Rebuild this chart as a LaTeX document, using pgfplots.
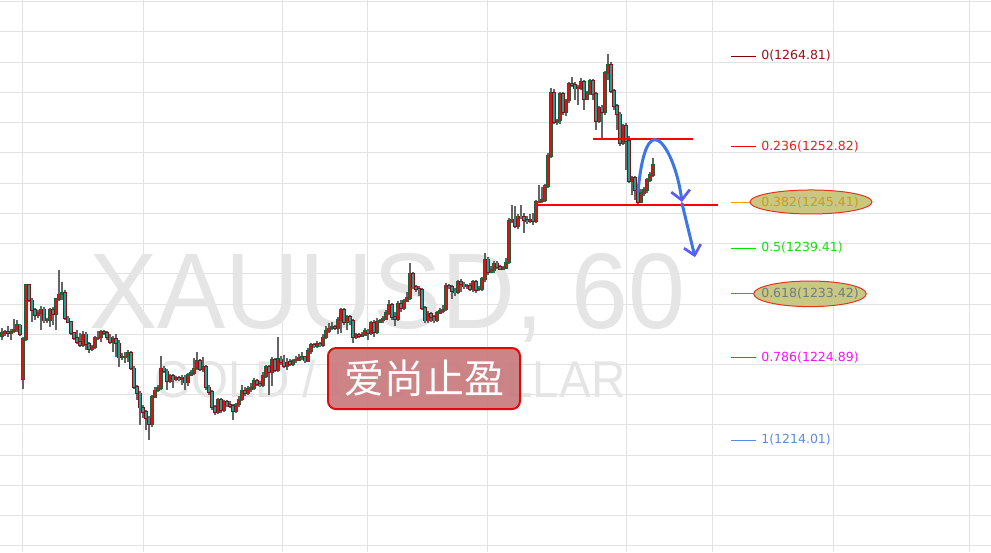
\documentclass[border=0pt]{standalone}
\usepackage{fontspec}
\setmainfont{DejaVu Sans}
\newfontfamily\lib{Liberation Sans}
\newfontfamily\cjk{Noto Sans CJK SC}
\usepackage{pgfplots}
\usepackage{pgfplotstable}
\pgfplotsset{compat=1.18}
\usetikzlibrary{arrows.meta}

\definecolor{gridc}{RGB}{226,226,226}
\definecolor{wm}{RGB}{229,229,229}
\definecolor{upfill}{RGB}{215,20,20}
\definecolor{upedge}{RGB}{30,95,60}
\definecolor{dnfill}{RGB}{30,160,150}
\definecolor{dnedge}{RGB}{125,20,20}
\definecolor{wick}{RGB}{100,100,100}
\definecolor{boxfill}{RGB}{201,123,125}
\definecolor{boxred}{RGB}{225,10,10}
\definecolor{arcc}{RGB}{60,118,230}
\definecolor{arrc}{RGB}{92,92,245}
\definecolor{fz}{RGB}{130,0,0}\definecolor{fzt}{RGB}{150,20,20}
\definecolor{fa}{RGB}{255,0,0}\definecolor{fat}{RGB}{240,30,30}
\definecolor{fb}{RGB}{255,153,0}\definecolor{fbt}{RGB}{205,155,20}
\definecolor{fc}{RGB}{0,225,0}\definecolor{fct}{RGB}{25,220,25}
\definecolor{fd}{RGB}{70,130,220}\definecolor{fdt}{RGB}{110,125,125}
\definecolor{fe}{RGB}{255,0,255}\definecolor{fet}{RGB}{240,20,240}
\definecolor{ff}{RGB}{85,140,230}\definecolor{fft}{RGB}{90,140,220}
\definecolor{ellf}{RGB}{200,200,130}
\definecolor{elle}{RGB}{230,50,30}

\pgfplotstableread{
x o h l c
2 1227.8 1228.8 1227.2 1228.2
5 1228.2 1228.6 1227.8 1228.3
8 1228.3 1229.1 1227.6 1228.2
11 1228.2 1228.7 1227.2 1228.4
14 1228.4 1230.0 1228.2 1228.6
17 1228.6 1229.9 1228.3 1229.2
20 1229.2 1229.4 1227.8 1228.0
23 1222.1 1227.6 1220.8 1227.4
26 1227.4 1234.6 1227.1 1234.5
29 1234.5 1234.6 1232.3 1232.5
32 1232.5 1232.8 1229.6 1231.2
35 1231.2 1231.5 1229.9 1230.5
38 1230.5 1231.2 1230.1 1230.8
41 1230.8 1231.7 1228.6 1231.3
44 1231.3 1231.6 1229.5 1229.8
47 1229.8 1230.1 1229.5 1229.9
50 1229.9 1231.5 1229.0 1231.2
53 1231.2 1231.6 1229.2 1230.7
56 1230.7 1232.8 1228.6 1232.7
59 1232.7 1236.5 1232.4 1233.3
62 1233.3 1234.9 1232.5 1233.5
65 1233.5 1233.9 1229.9 1230.1
68 1230.1 1230.4 1229.5 1229.6
71 1229.6 1229.8 1227.9 1228.2
74 1228.2 1228.3 1227.2 1227.5
77 1227.5 1228.6 1226.7 1227.0
80 1227.0 1228.2 1226.3 1226.6
83 1226.6 1228.4 1226.3 1228.0
86 1228.0 1228.3 1225.9 1226.7
89 1226.7 1227.0 1225.5 1226.0
92 1226.0 1226.6 1225.8 1226.3
95 1226.3 1227.8 1226.0 1227.5
98 1227.5 1228.4 1227.2 1227.6
101 1227.6 1228.6 1227.0 1228.3
104 1228.3 1228.6 1227.9 1228.2
107 1228.2 1228.4 1227.2 1227.6
110 1227.6 1228.0 1226.7 1227.0
113 1227.0 1227.8 1225.7 1227.4
116 1227.4 1228.0 1225.0 1226.8
119 1226.8 1227.2 1223.7 1224.9
122 1224.9 1225.5 1224.6 1225.0
125 1225.0 1225.7 1224.2 1225.1
128 1225.1 1225.9 1224.3 1225.5
131 1225.5 1225.8 1223.3 1223.5
134 1223.5 1223.8 1220.8 1221.0
137 1221.0 1221.3 1219.3 1220.2
140 1220.2 1220.5 1216.0 1218.3
143 1218.3 1218.7 1216.9 1217.7
146 1217.7 1218.0 1215.3 1216.9
149 1216.9 1217.2 1214.0 1216.1
152 1216.1 1220.0 1215.7 1219.7
155 1219.7 1221.0 1219.6 1220.6
158 1220.6 1221.3 1220.4 1220.9
161 1220.9 1225.1 1220.6 1223.5
164 1223.5 1223.8 1222.9 1223.1
167 1223.1 1223.4 1220.6 1221.8
170 1221.8 1222.7 1221.6 1222.5
173 1222.5 1222.7 1220.9 1222.0
176 1222.0 1222.5 1221.8 1222.2
179 1222.2 1222.5 1221.8 1222.1
182 1222.1 1222.6 1221.3 1222.3
185 1222.3 1222.6 1220.6 1221.6
188 1221.6 1222.9 1221.2 1222.6
191 1222.6 1223.3 1222.5 1222.9
194 1222.9 1224.9 1222.6 1223.5
197 1223.5 1225.7 1223.3 1224.5
200 1224.5 1224.7 1223.1 1223.4
203 1223.4 1225.0 1223.0 1223.7
206 1223.7 1223.9 1220.6 1221.0
209 1221.0 1221.3 1220.0 1220.4
212 1220.4 1220.6 1218.0 1218.4
215 1218.4 1218.7 1217.3 1217.7
218 1217.7 1219.6 1217.4 1219.3
221 1219.3 1219.6 1217.6 1218.0
224 1218.0 1219.3 1217.7 1219.1
227 1219.1 1219.3 1218.4 1218.7
230 1218.7 1219.2 1218.3 1218.5
233 1218.5 1218.8 1216.7 1217.8
236 1217.8 1218.9 1217.6 1218.7
239 1218.7 1219.9 1218.4 1219.4
242 1219.4 1221.3 1219.2 1220.5
245 1220.5 1221.0 1219.9 1220.2
248 1220.2 1221.2 1220.0 1220.8
251 1220.8 1221.6 1220.4 1220.9
254 1220.9 1222.2 1220.6 1221.8
257 1221.8 1222.1 1221.2 1221.4
260 1221.4 1221.8 1221.0 1221.3
263 1221.3 1223.0 1221.0 1222.5
266 1222.5 1223.9 1222.2 1223.7
269 1223.7 1223.9 1220.0 1223.0
272 1223.0 1225.0 1221.2 1224.6
275 1224.6 1224.9 1223.0 1223.3
278 1223.3 1227.6 1223.0 1224.7
281 1224.7 1225.1 1223.9 1224.3
284 1224.3 1225.2 1223.5 1223.8
287 1223.8 1224.9 1223.3 1224.3
290 1224.3 1224.7 1223.8 1224.1
293 1224.1 1224.7 1223.8 1224.5
296 1224.5 1225.1 1224.2 1224.6
299 1224.6 1225.4 1224.5 1224.9
302 1224.9 1225.7 1224.6 1225.0
305 1225.0 1225.2 1224.2 1224.5
308 1224.5 1226.2 1224.3 1225.8
311 1225.8 1226.8 1225.4 1226.6
314 1226.6 1226.8 1226.2 1226.4
317 1226.4 1227.1 1226.2 1226.7
320 1226.7 1227.0 1226.3 1226.6
323 1226.6 1228.0 1226.3 1227.6
326 1227.6 1229.1 1227.4 1228.4
329 1228.4 1229.5 1228.2 1228.8
332 1228.8 1229.6 1228.6 1229.0
335 1229.0 1229.2 1228.6 1228.8
338 1228.8 1230.3 1228.0 1229.9
341 1229.9 1231.5 1228.2 1231.2
344 1231.2 1231.5 1229.2 1229.6
347 1229.6 1230.5 1228.6 1230.3
350 1230.3 1230.5 1229.2 1229.8
353 1229.8 1230.0 1226.8 1227.6
356 1227.6 1228.2 1227.4 1227.9
359 1227.9 1228.2 1227.5 1227.8
362 1227.8 1228.3 1227.6 1227.9
365 1227.9 1228.8 1227.8 1228.4
368 1228.4 1228.7 1227.2 1228.2
371 1228.2 1229.8 1227.9 1229.5
374 1229.5 1229.9 1227.6 1228.3
377 1228.3 1230.1 1228.0 1229.6
380 1229.6 1230.0 1229.5 1229.8
383 1229.8 1230.4 1229.5 1230.0
386 1230.0 1231.2 1229.9 1230.8
389 1230.8 1232.5 1230.5 1231.9
392 1231.9 1232.1 1229.9 1230.3
395 1230.3 1230.9 1229.1 1230.0
398 1230.0 1232.4 1229.8 1232.0
401 1232.0 1232.5 1230.9 1231.5
404 1231.5 1232.7 1231.2 1232.4
407 1232.4 1233.6 1232.3 1232.8
410 1232.8 1237.4 1232.5 1236.0
413 1236.0 1236.2 1234.0 1234.3
416 1234.3 1234.5 1233.6 1234.0
419 1234.0 1234.4 1233.1 1233.9
422 1233.9 1234.1 1231.2 1231.5
425 1231.5 1231.7 1229.5 1229.8
428 1229.8 1231.1 1229.5 1230.7
431 1230.7 1230.9 1229.6 1230.3
434 1230.3 1230.5 1229.5 1229.8
437 1229.8 1231.1 1229.6 1230.8
440 1230.8 1231.5 1230.7 1231.1
443 1231.1 1231.9 1230.8 1231.3
446 1231.3 1234.8 1231.1 1234.4
449 1234.4 1234.6 1234.0 1234.3
452 1234.3 1234.5 1232.7 1233.7
455 1233.7 1234.1 1233.1 1233.6
458 1233.6 1235.2 1233.3 1234.9
461 1234.9 1235.3 1233.6 1234.6
464 1234.6 1234.9 1234.0 1234.3
467 1234.3 1234.6 1234.0 1234.4
470 1234.4 1234.8 1233.7 1234.0
473 1234.0 1235.2 1233.6 1234.9
476 1234.9 1235.2 1233.5 1233.9
479 1233.9 1234.4 1233.7 1234.0
482 1234.0 1235.6 1233.7 1235.3
485 1235.3 1238.8 1234.9 1237.9
488 1237.9 1238.2 1235.8 1236.2
491 1236.2 1237.0 1236.1 1236.5
494 1236.5 1237.7 1236.1 1237.4
497 1237.4 1237.7 1236.6 1236.9
500 1236.9 1237.2 1236.5 1236.6
503 1236.6 1237.0 1236.5 1236.8
506 1236.8 1238.1 1236.6 1237.5
509 1237.5 1243.4 1237.3 1243.0
512 1243.0 1245.1 1242.7 1243.2
515 1243.2 1245.0 1242.0 1242.3
518 1242.3 1243.9 1241.9 1243.6
521 1243.6 1245.1 1243.2 1243.5
524 1243.5 1244.0 1241.4 1243.1
527 1243.1 1243.6 1242.6 1243.0
530 1243.0 1243.9 1242.7 1243.2
533 1243.2 1244.0 1242.5 1243.0
536 1243.0 1245.8 1242.7 1245.5
539 1245.5 1247.7 1245.4 1245.6
542 1245.6 1247.5 1245.4 1245.8
545 1245.8 1247.9 1245.5 1247.6
548 1247.6 1252.0 1247.3 1251.6
551 1251.6 1260.6 1251.3 1259.9
554 1259.9 1260.5 1255.8 1256.1
557 1256.1 1256.5 1255.7 1256.3
560 1256.3 1260.1 1255.8 1259.8
563 1259.8 1260.1 1257.0 1257.4
566 1257.4 1259.1 1256.9 1258.9
569 1258.9 1261.4 1258.6 1261.1
572 1261.1 1262.0 1260.7 1261.0
575 1261.0 1261.4 1259.0 1260.5
578 1260.5 1261.0 1258.3 1260.6
581 1260.6 1261.9 1260.3 1261.4
584 1261.4 1261.6 1257.7 1259.1
587 1259.1 1260.2 1259.0 1259.9
590 1259.9 1261.8 1259.7 1261.5
593 1261.5 1261.8 1259.0 1259.8
596 1259.8 1260.1 1255.0 1256.2
599 1256.2 1258.2 1255.9 1257.9
602 1257.9 1258.3 1253.7 1257.4
605 1257.4 1262.8 1257.0 1262.6
608 1262.6 1265.1 1261.6 1263.6
611 1263.6 1264.0 1259.9 1260.2
614 1260.2 1260.5 1257.7 1258.2
617 1258.2 1258.5 1255.0 1257.1
620 1257.1 1257.4 1252.9 1253.3
623 1253.3 1255.8 1253.0 1255.6
626 1255.6 1255.9 1249.7 1253.6
629 1253.6 1254.2 1248.0 1248.3
632 1248.3 1248.9 1246.4 1248.7
635 1248.7 1248.9 1245.8 1247.1
638 1247.1 1247.3 1245.3 1245.5
641 1245.5 1247.2 1245.3 1246.7
644 1246.7 1247.5 1246.3 1247.1
647 1247.1 1248.7 1246.7 1248.4
650 1248.4 1249.5 1248.1 1249.1
653 1249.1 1251.3 1248.8 1250.4
}\candles

\begin{document}
\begin{tikzpicture}
\begin{axis}[
  x=0.75pt, y=5.6695pt,
  xmin=0, xmax=991, ymin=1199.19, ymax=1272.22,
  axis line style={draw=none},
  tick style={draw=none},
  xtick={22,143,282,367,487,626,712,833,969},
  ytick={1200,1204,...,1272},
  xticklabels={}, yticklabels={},
  grid=major,
  grid style={draw=gridc, line width=0.75pt},
  clip=false,
]
\coordinate (sw) at (rel axis cs:0,0);
\coordinate (ne) at (rel axis cs:1,1);

% watermark
\node[text=wm, font=\lib\fontsize{80.7}{90}\selectfont, xscale=0.95, inner sep=0, anchor=base]
  at (axis cs:387.5,1228.8) {XAUUSD, 60};
\node[text=wm, font=\lib\fontsize{38.8}{44}\selectfont, xscale=0.92, inner sep=0, anchor=base]
  at (axis cs:390,1219.7) {GOLD / U.S. DOLLAR};

% wicks
\addplot[draw=none, mark=none, error bars/.cd, y dir=both, y explicit, error mark=none,
  error bar style={draw=wick, line width=0.8pt}]
  table[x=x, y expr={(\thisrow{h}+\thisrow{l})/2}, y error expr={(\thisrow{h}-\thisrow{l})/2}] {\candles};
% up bodies
\addplot[draw=none, mark=none, restrict y to domain=1190:1280, error bars/.cd, y dir=both, y explicit, error mark=none,
  error bar style={draw=upedge, line width=2.5pt}]
  table[x=x, y expr={\thisrow{c}>\thisrow{o} ? (\thisrow{o}+\thisrow{c})/2 : 0}, y error expr={abs(\thisrow{c}-\thisrow{o})/2+0.1}] {\candles};
\addplot[draw=none, mark=none, restrict y to domain=1190:1280, error bars/.cd, y dir=both, y explicit, error mark=none,
  error bar style={draw=upfill, line width=1.3pt}]
  table[x=x, y expr={\thisrow{c}>\thisrow{o} ? (\thisrow{o}+\thisrow{c})/2 : 0}, y error expr={abs(\thisrow{c}-\thisrow{o})/2}] {\candles};
% down bodies
\addplot[draw=none, mark=none, restrict y to domain=1190:1280, error bars/.cd, y dir=both, y explicit, error mark=none,
  error bar style={draw=dnedge, line width=2.5pt}]
  table[x=x, y expr={\thisrow{c}>\thisrow{o} ? 0 : (\thisrow{o}+\thisrow{c})/2}, y error expr={abs(\thisrow{c}-\thisrow{o})/2+0.1}] {\candles};
\addplot[draw=none, mark=none, restrict y to domain=1190:1280, error bars/.cd, y dir=both, y explicit, error mark=none,
  error bar style={draw=dnfill, line width=1.3pt}]
  table[x=x, y expr={\thisrow{c}>\thisrow{o} ? 0 : (\thisrow{o}+\thisrow{c})/2}, y error expr={abs(\thisrow{c}-\thisrow{o})/2}] {\candles};

% red support / resistance lines
\addplot[draw=red, line width=1.5pt, mark=none] coordinates {(593,1253.8) (693,1253.8)};
\addplot[draw=red, line width=1.5pt, mark=none] coordinates {(536,1245.1) (718,1245.1)};

% blue projected path
\draw[arcc, line width=2.25pt, line cap=round,
  -{Straight Barb[length=7pt, width=14pt, line width=2pt, color=arrc]}]
  (axis cs:638,1246.82) .. controls (axis cs:641,1251.3) and (axis cs:647,1253.75) ..
  (axis cs:655,1253.75) .. controls (axis cs:664,1253.75) and (axis cs:677,1250.39) ..
  (axis cs:682,1245.5);
\draw[arcc, line width=2.25pt, line cap=round,
  -{Straight Barb[length=7pt, width=13pt, line width=2pt, color=arrc]}]
  (axis cs:682,1245.3) -- (axis cs:695,1238.2);

% text box
\draw[rounded corners=6pt, fill=boxfill, fill opacity=0.93, draw=boxred, line width=1.5pt]
  (axis cs:328,1226.18) rectangle (axis cs:520,1218.11);
\node[text=white, font=\cjk\fontsize{30}{30}\selectfont, inner sep=0] at (axis cs:424,1222.2) {爱尚止盈};

% Fibonacci levels
\addplot[draw=fz, line width=0.75pt, mark=none] coordinates {(731,1264.81) (756,1264.81)};
\addplot[draw=fa, line width=0.75pt, mark=none] coordinates {(731,1252.82) (756,1252.82)};
\addplot[draw=fb, line width=0.75pt, mark=none] coordinates {(731,1245.41) (756,1245.41)};
\addplot[draw=fc, line width=0.75pt, mark=none] coordinates {(731,1239.41) (756,1239.41)};
\addplot[draw=fd, line width=0.75pt, mark=none] coordinates {(731,1233.42) (756,1233.42)};
\addplot[draw=fe, line width=0.75pt, mark=none] coordinates {(731,1224.89) (756,1224.89)};
\addplot[draw=ff, line width=0.75pt, mark=none] coordinates {(731,1214.01) (756,1214.01)};

\draw[fill=ellf, draw=elle, line width=0.75pt] (axis cs:811,1245.5) ellipse [x radius=45.75pt, y radius=9pt];
\draw[fill=ellf, draw=elle, line width=0.75pt] (axis cs:810,1233.35) ellipse [x radius=42.2pt, y radius=9.6pt];

\begin{scope}[every node/.style={anchor=west, inner sep=0, font=\fontsize{9.4}{11}\selectfont}]
\node[text=fzt] at (axis cs:761,1264.81) {0(1264.81)};
\node[text=fat] at (axis cs:761,1252.82) {0.236(1252.82)};
\node[text=fbt] at (axis cs:761,1245.41) {0.382(1245.41)};
\node[text=fct] at (axis cs:761,1239.41) {0.5(1239.41)};
\node[text=fdt] at (axis cs:761,1233.42) {0.618(1233.42)};
\node[text=fet] at (axis cs:761,1224.89) {0.786(1224.89)};
\node[text=fft] at (axis cs:761,1214.01) {1(1214.01)};
\end{scope}
\end{axis}
\pgfresetboundingbox
\useasboundingbox (sw) rectangle (ne);
\end{tikzpicture}
\end{document}
